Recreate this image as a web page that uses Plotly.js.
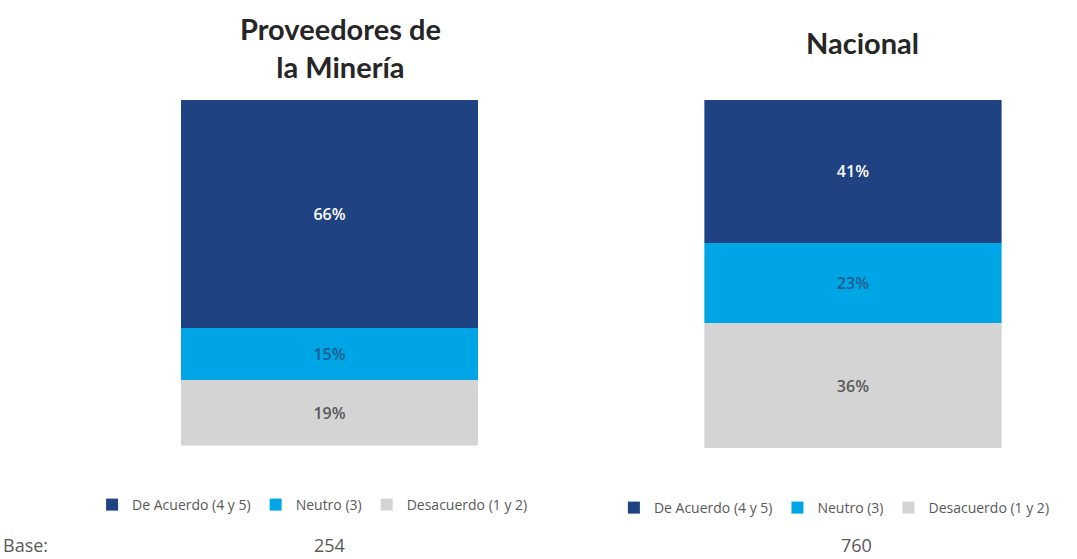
<!DOCTYPE html>
<html>
<head>
<meta charset="utf-8">
<script src="https://cdn.plot.ly/plotly-3.0.1.min.js"></script>
<style>html,body{margin:0;padding:0;background:#fff;}#chart{width:1077px;height:559px;}</style>
</head>
<body>
<div id="chart"></div>
<script>
const panelTitles = ['Proveedores de<br>la Minería', 'Nacional'];
const seriesNames = ['De Acuerdo (4 y 5)', 'Neutro (3)', 'Desacuerdo (1 y 2)'];
const mineria = [66, 15, 19];
const nacional = [41, 23, 36];
const bases = [254, 760];
const baseLabel = 'Base:';

const colors = ['#1F4283', '#00A5E6', '#D4D4D4'];
const textColors = ['#FFFFFF', '#1F5C8C', '#595959'];
const FONT = 'Lato, "Open Sans", sans-serif';
const FONT2 = '"Open Sans", Lato, sans-serif';

const panels = [mineria, nacional];
const traces = [];
panels.forEach((vals, p) => {
  // bottom of stack first: Desacuerdo, Neutro, De Acuerdo
  for (let i = seriesNames.length - 1; i >= 0; i--) {
    traces.push({
      type: 'bar',
      x: [0],
      y: [vals[i]],
      width: [1],
      name: seriesNames[i],
      xaxis: p === 0 ? 'x' : 'x2',
      yaxis: p === 0 ? 'y' : 'y2',
      legend: p === 0 ? 'legend' : 'legend2',
      marker: {color: colors[i], line: {width: 0}},
      text: [vals[i] + '%'],
      textposition: 'inside',
      insidetextanchor: 'middle',
      textfont: {family: FONT2, size: 16, color: textColors[i], weight: 600},
      hoverinfo: 'skip'
    });
  }
});

const axX = {range: [-0.5, 0.5], showgrid: false, zeroline: false, showticklabels: false, showline: false, ticks: '', fixedrange: true};
const axY = {range: [0, 100], showgrid: false, zeroline: false, showticklabels: false, showline: false, ticks: '', fixedrange: true};

const legendBase = {
  orientation: 'h', traceorder: 'reversed',
  font: {family: FONT2, size: 14, color: '#595959'},
  xanchor: 'left', yanchor: 'middle',
  bgcolor: 'rgba(0,0,0,0)', itemwidth: 30, itemclick: false, itemdoubleclick: false
};

const layout = {
  width: 1077, height: 559,
  margin: {l: 0, r: 0, t: 0, b: 0},
  paper_bgcolor: '#fff', plot_bgcolor: '#fff',
  barmode: 'stack', bargap: 0,
  showlegend: true,
  xaxis: Object.assign({domain: [0.168, 0.444], anchor: 'y'}, axX),
  yaxis: Object.assign({domain: [0.203, 0.821], anchor: 'x'}, axY),
  xaxis2: Object.assign({domain: [0.654, 0.930], anchor: 'y2'}, axX),
  yaxis2: Object.assign({domain: [0.198, 0.821], anchor: 'x2'}, axY),
  legend: Object.assign({x: 0.0855, y: 1 - 505/559}, legendBase),
  legend2: Object.assign({x: 0.570, y: 1 - 508/559}, legendBase),
  annotations: [
    {text: panelTitles[0], x: 0.316, y: 1 - 47/559, xref: 'paper', yref: 'paper', showarrow: false,
     font: {family: FONT, size: 29, color: '#262626', weight: 700}, xanchor: 'center', yanchor: 'middle'},
    {text: panelTitles[1], x: 0.801, y: 1 - 43/559, xref: 'paper', yref: 'paper', showarrow: false,
     font: {family: FONT, size: 29, color: '#262626', weight: 700}, xanchor: 'center', yanchor: 'middle'},
    {text: baseLabel, x: 0.001, y: 0, xref: 'paper', yref: 'paper', showarrow: false,
     font: {family: FONT2, size: 18, color: '#595959'}, xanchor: 'left', yanchor: 'bottom'},
    {text: String(bases[0]), x: 0.306, y: 0, xref: 'paper', yref: 'paper', showarrow: false,
     font: {family: FONT2, size: 18, color: '#595959'}, xanchor: 'center', yanchor: 'bottom'},
    {text: String(bases[1]), x: 0.795, y: 1 - 545/559, xref: 'paper', yref: 'paper', showarrow: false,
     font: {family: FONT2, size: 18, color: '#595959'}, xanchor: 'center', yanchor: 'middle'}
  ]
};

Plotly.newPlot('chart', traces, layout, {displayModeBar: false, staticPlot: true});
</script>
</body>
</html>
